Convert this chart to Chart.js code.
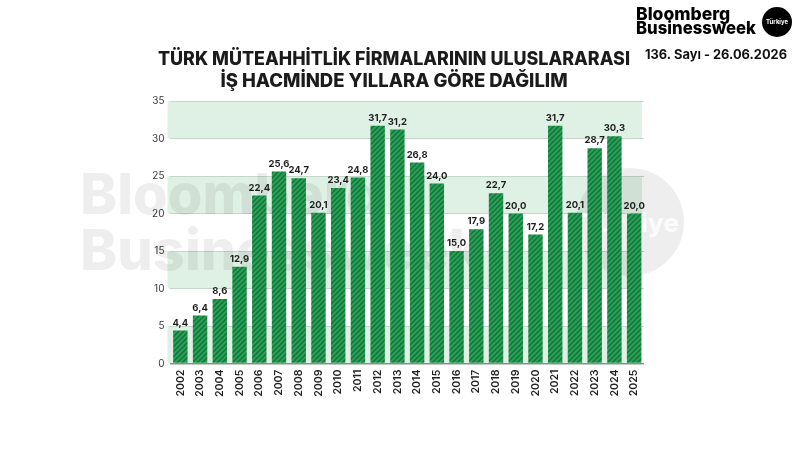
<!DOCTYPE html>
<html lang="tr">
<head>
<meta charset="utf-8">
<title>Türk Müteahhitlik Firmaları</title>
<script src="https://cdn.jsdelivr.net/npm/chart.js@4/dist/chart.umd.min.js"></script>
<style>
    html, body { margin: 0; padding: 0; background: #ffffff; }
    #wrap { position: relative; width: 800px; height: 450px; }
</style>
</head>
<body>
<div id="wrap"><canvas id="hacimChart" width="800" height="450"></canvas></div>
<script>
// Veriler
const years = ['2002', '2003', '2004', '2005', '2006', '2007', '2008', '2009', '2010', '2011', '2012', '2013',
               '2014', '2015', '2016', '2017', '2018', '2019', '2020', '2021', '2022', '2023', '2024', '2025'];
const volumes = [4.4, 6.4, 8.6, 12.9, 22.4, 25.6, 24.7, 20.1, 23.4, 24.8, 31.7, 31.2,
                 26.8, 24.0, 15.0, 17.9, 22.7, 20.0, 17.2, 31.7, 20.1, 28.7, 30.3, 20.0];
const yTicks = [0, 5, 10, 15, 20, 25, 30, 35];
const titleLines = ['TÜRK MÜTEAHHİTLİK FİRMALARININ ULUSLARARASI', 'İŞ HACMİNDE YILLARA GÖRE DAĞILIM'];
const issueText = '136. Sayı - 26.06.2026';

const FONT = 'Inter, "Liberation Sans", Arial, sans-serif';
const BAND = '#dff0e4';

// çizgili bar deseni
function makeHatch() {
    const size = 5;
    const c = document.createElement('canvas');
    c.width = size; c.height = size;
    const g = c.getContext('2d');
    g.fillStyle = '#27a055';
    g.fillRect(0, 0, size, size);
    g.strokeStyle = '#15723a';
    g.lineWidth = 1.4;
    g.beginPath();
    g.moveTo(-1, size + 1); g.lineTo(size + 1, -1);
    g.moveTo(-1, 1); g.lineTo(1, -1);
    g.moveTo(size - 1, size + 1); g.lineTo(size + 1, size - 1);
    g.stroke();
    return g.createPattern(c, 'repeat');
}

// arka plan bantları
const bandsPlugin = {
    id: 'bands',
    beforeDraw(chart) {
        const { ctx, chartArea, scales } = chart;
        ctx.save();
        ctx.fillStyle = '#ffffff';
        ctx.fillRect(0, 0, chart.width, chart.height);
        ctx.fillStyle = BAND;
        for (let i = 0; i < yTicks.length - 1; i++) {
            if (i % 2 !== 0) continue;
            const top = scales.y.getPixelForValue(yTicks[i + 1]);
            const bot = scales.y.getPixelForValue(yTicks[i]);
            ctx.fillRect(chartArea.left - 3, top, chartArea.right - chartArea.left + 1, bot - top);
        }
        ctx.restore();
    }
};

// soluk logo filigranı
const watermarkPlugin = {
    id: 'watermark',
    beforeDatasetsDraw(chart) {
        const ctx = chart.ctx;
        ctx.save();
        ctx.fillStyle = 'rgba(0, 0, 0, 0.065)';
        ctx.font = '800 56px ' + FONT;
        ctx.textBaseline = 'alphabetic';
        ctx.fillText('Bloomberg', 80, 214);
        ctx.fillText('Businessweek', 80, 270);
        ctx.beginPath();
        ctx.arc(630, 222, 54, 0, Math.PI * 2);
        ctx.fill();
        ctx.fillStyle = 'rgba(255, 255, 255, 0.75)';
        ctx.font = '800 26px ' + FONT;
        ctx.textAlign = 'center';
        ctx.fillText('Türkiye', 630, 232);
        ctx.restore();
    }
};

// bar üstü değer etiketleri
const valueLabels = {
    id: 'valueLabels',
    afterDatasetsDraw(chart) {
        const ctx = chart.ctx;
        const meta = chart.getDatasetMeta(0);
        ctx.save();
        ctx.font = '700 9.5px ' + FONT;
        ctx.textAlign = 'center';
        ctx.textBaseline = 'bottom';
        ctx.fillStyle = '#1e1e1e';
        meta.data.forEach((bar, i) => {
            ctx.fillText(volumes[i].toFixed(1).replace('.', ','), bar.x, bar.y - 3);
        });
        ctx.restore();
    }
};

// başlık ve künye
const headerPlugin = {
    id: 'header',
    afterDraw(chart) {
        const ctx = chart.ctx;
        ctx.save();
        ctx.fillStyle = '#1b1b1b';
        ctx.textAlign = 'center';
        ctx.textBaseline = 'alphabetic';
        ctx.font = '800 18.5px ' + FONT;
        ctx.fillText(titleLines[0], 394, 65, 472);
        ctx.fillText(titleLines[1], 394, 87, 348);

        ctx.fillStyle = '#000000';
        ctx.textAlign = 'left';
        ctx.font = '800 17.5px ' + FONT;
        ctx.fillText('Bloomberg', 636, 20, 95);
        ctx.fillText('Businessweek', 636, 34, 120);
        ctx.beginPath();
        ctx.arc(777, 22, 15, 0, Math.PI * 2);
        ctx.fill();
        ctx.fillStyle = '#ffffff';
        ctx.textAlign = 'center';
        ctx.font = '700 6px ' + FONT;
        ctx.fillText('Türkiye', 777, 24);

        ctx.fillStyle = '#111111';
        ctx.font = '700 13px ' + FONT;
        ctx.fillText(issueText, 716, 59, 142);
        ctx.restore();
    }
};

new Chart(document.getElementById('hacimChart'), {
    type: 'bar',
    data: {
        labels: years,
        datasets: [{
            data: volumes,
            backgroundColor: makeHatch(),
            borderWidth: 0,
            barPercentage: 0.73,
            categoryPercentage: 1.0
        }]
    },
    options: {
        responsive: false,
        animation: false,
        devicePixelRatio: 1,
        layout: {
            padding: { top: 101, left: 146, right: 156, bottom: 47 }
        },
        scales: {
            y: {
                min: 0,
                max: 35,
                border: { display: false },
                grid: {
                    color: (c) => c.tick.value === 0 ? '#8a8f8b' : '#c6d6cb',
                    lineWidth: (c) => c.tick.value === 0 ? 1.5 : 1,
                    drawTicks: false
                },
                ticks: {
                    stepSize: 5,
                    padding: 6,
                    color: '#3a3a3a',
                    font: { family: FONT, size: 10 }
                }
            },
            x: {
                border: { display: false },
                grid: { display: false, drawTicks: false },
                ticks: {
                    minRotation: 90,
                    maxRotation: 90,
                    padding: 6,
                    color: '#222222',
                    font: { family: FONT, size: 10.5, weight: '600' }
                }
            }
        },
        plugins: {
            legend: { display: false },
            tooltip: { enabled: false }
        }
    },
    plugins: [bandsPlugin, watermarkPlugin, valueLabels, headerPlugin]
});
</script>
</body>
</html>
